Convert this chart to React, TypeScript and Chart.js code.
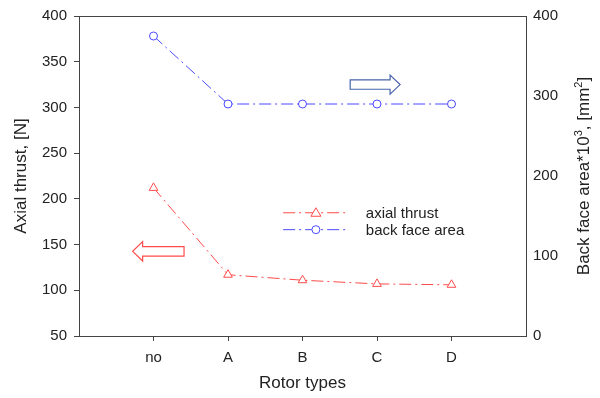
import React, { useEffect, useRef } from 'react';
import { Chart, registerables } from 'chart.js';

Chart.register(...registerables);

const categories = ['no', 'A', 'B', 'C', 'D'];
const axialThrust = [212, 117, 111, 107, 106];
const backFaceArea = [375, 290, 290, 290, 290];
const leftTicks = [50, 100, 150, 200, 250, 300, 350, 400];
const rightTicks = [0, 100, 200, 300, 400];

const RED = 'rgb(255,75,75)';
const BLUE = 'rgb(75,75,255)';
const FONT = '"Liberation Sans", Arial, sans-serif';
const DASH = [12, 4, 2, 4];

function drawArrow(ctx: CanvasRenderingContext2D, xTail: number, xTip: number, y: number, bodyH: number, headH: number, headL: number, color: string) {
  const dir = xTip > xTail ? 1 : -1;
  const xBase = xTip - dir * headL;
  ctx.save();
  ctx.beginPath();
  ctx.moveTo(xTail, y - bodyH);
  ctx.lineTo(xBase, y - bodyH);
  ctx.lineTo(xBase, y - headH);
  ctx.lineTo(xTip, y);
  ctx.lineTo(xBase, y + headH);
  ctx.lineTo(xBase, y + bodyH);
  ctx.lineTo(xTail, y + bodyH);
  ctx.closePath();
  ctx.fillStyle = '#ffffff';
  ctx.fill();
  ctx.strokeStyle = color;
  ctx.lineWidth = 1.2;
  ctx.stroke();
  ctx.restore();
}

const annotations = {
  id: 'annotations',
  afterDatasetsDraw(chart: any) {
    const { ctx, chartArea, scales } = chart;
    const x = scales.x;
    const y = scales.y;
    // top border
    ctx.save();
    ctx.strokeStyle = '#444';
    ctx.lineWidth = 1;
    ctx.beginPath();
    ctx.moveTo(chartArea.left, chartArea.top + 0.5);
    ctx.lineTo(chartArea.right, chartArea.top + 0.5);
    ctx.stroke();
    ctx.restore();

    // arrows
    drawArrow(ctx, x.getPixelForValue(2.64), x.getPixelForValue(3.31), y.getPixelForValue(325), 4.7, 9.5, 10, 'rgb(70,100,170)');
    drawArrow(ctx, x.getPixelForValue(0.41), x.getPixelForValue(-0.28), y.getPixelForValue(142.6), 4.8, 9.7, 10, RED);

    // legend
    const rows = [
      { label: 'axial thrust', color: RED, style: 'triangle', yv: 184.8 },
      { label: 'back face area', color: BLUE, style: 'circle', yv: 166.3 },
    ];
    const x0 = x.getPixelForValue(1.74);
    const x1 = x.getPixelForValue(2.61);
    const xm = x.getPixelForValue(2.18);
    const xt = x.getPixelForValue(2.85);
    rows.forEach((r) => {
      const py = y.getPixelForValue(r.yv);
      ctx.save();
      ctx.strokeStyle = r.color;
      ctx.lineWidth = 1;
      ctx.setLineDash(DASH);
      ctx.beginPath();
      ctx.moveTo(x0, py);
      ctx.lineTo(x1, py);
      ctx.stroke();
      ctx.setLineDash([]);
      ctx.fillStyle = '#fff';
      ctx.beginPath();
      if (r.style === 'circle') {
        ctx.arc(xm, py, 4, 0, Math.PI * 2);
      } else {
        ctx.moveTo(xm, py - 5);
        ctx.lineTo(xm + 5, py + 3.5);
        ctx.lineTo(xm - 5, py + 3.5);
        ctx.closePath();
      }
      ctx.fill();
      ctx.stroke();
      ctx.fillStyle = '#222';
      ctx.font = '15px ' + FONT;
      ctx.textAlign = 'left';
      ctx.textBaseline = 'middle';
      ctx.fillText(r.label, xt, py + 1);
      ctx.restore();
    });
  },
  afterDraw(chart: any) {
    const { ctx, chartArea } = chart;
    const parts = [
      { t: 'Back face area*10', sup: false },
      { t: '3', sup: true },
      { t: ', [mm', sup: false },
      { t: '2', sup: true },
      { t: ']', sup: false },
    ];
    const big = '17px ' + FONT;
    const small = '11px ' + FONT;
    ctx.save();
    let total = 0;
    parts.forEach((p) => {
      ctx.font = p.sup ? small : big;
      total += ctx.measureText(p.t).width;
    });
    const cy = (chartArea.top + chartArea.bottom) / 2;
    ctx.translate(589, cy);
    ctx.rotate(-Math.PI / 2);
    ctx.fillStyle = '#222';
    ctx.textAlign = 'left';
    ctx.textBaseline = 'alphabetic';
    let cx = -total / 2;
    parts.forEach((p) => {
      ctx.font = p.sup ? small : big;
      ctx.fillText(p.t, cx, p.sup ? -7 : 0);
      cx += ctx.measureText(p.t).width;
    });
    ctx.restore();
  },
};

export default function App() {
  const ref = useRef<HTMLCanvasElement | null>(null);
  useEffect(() => {
    if (!ref.current) return;
    const chart = new Chart(ref.current, {
      type: 'line',
      data: {
        datasets: [
          {
            label: 'axial thrust',
            data: axialThrust.map((v, i) => ({ x: i, y: v })),
            borderColor: RED,
            backgroundColor: '#fff',
            borderWidth: 1,
            borderDash: DASH,
            pointStyle: 'triangle',
            pointRadius: 5,
            pointBorderColor: RED,
            pointBackgroundColor: '#fff',
            pointBorderWidth: 1,
            yAxisID: 'y',
          },
          {
            label: 'back face area',
            data: backFaceArea.map((v, i) => ({ x: i, y: v })),
            borderColor: BLUE,
            backgroundColor: '#fff',
            borderWidth: 1,
            borderDash: DASH,
            pointStyle: 'circle',
            pointRadius: 4,
            pointBorderColor: BLUE,
            pointBackgroundColor: '#fff',
            pointBorderWidth: 1,
            yAxisID: 'y2',
          },
        ],
      },
      options: {
        animation: false,
        responsive: false,
        layout: { padding: { top: 15, left: 0, right: 0, bottom: 0 } },
        plugins: { legend: { display: false }, tooltip: { enabled: false } },
        font: { family: FONT },
        scales: {
          x: {
            type: 'linear',
            min: -1,
            max: 5,
            afterBuildTicks: (s: any) => {
              s.ticks = categories.map((_, i) => ({ value: i }));
            },
            afterFit: (s: any) => {
              s.height = 62;
            },
            ticks: {
              callback: (v: any) => categories[v] ?? '',
              color: '#222',
              font: { family: FONT, size: 15 },
              padding: 8,
              maxRotation: 0,
            },
            grid: { display: true, drawOnChartArea: false, tickLength: 5, color: '#444' },
            border: { display: true, color: '#444', width: 1 },
            title: { display: true, text: 'Rotor types', color: '#222', font: { family: FONT, size: 17 }, padding: { top: 2 } },
          },
          y: {
            type: 'linear',
            position: 'left',
            min: 50,
            max: 400,
            afterBuildTicks: (s: any) => {
              s.ticks = leftTicks.map((v) => ({ value: v }));
            },
            afterFit: (s: any) => {
              s.width = 79;
            },
            ticks: { color: '#222', font: { family: FONT, size: 15 }, padding: 7 },
            grid: { display: true, drawOnChartArea: false, tickLength: 5, color: '#444' },
            border: { display: true, color: '#444', width: 1 },
            title: { display: true, text: 'Axial thrust, [N]', color: '#222', font: { family: FONT, size: 17 }, padding: { top: 11, bottom: 2 } },
          },
          y2: {
            type: 'linear',
            position: 'right',
            min: 0,
            max: 400,
            afterBuildTicks: (s: any) => {
              s.ticks = rightTicks.map((v) => ({ value: v }));
            },
            afterFit: (s: any) => {
              s.width = 74;
            },
            ticks: { color: '#222', font: { family: FONT, size: 15 }, padding: 7 },
            grid: { display: false, drawOnChartArea: false, drawTicks: false },
            border: { display: true, color: '#444', width: 1 },
            title: { display: false },
          },
        },
      },
      plugins: [annotations],
    } as any);
    return () => chart.destroy();
  }, []);
  return (
    <div style={{ position: 'fixed', left: 0, top: 0, width: 600, height: 398, background: '#fff' }}>
      <canvas ref={ref} width={600} height={398} style={{ display: 'block', width: 600, height: 398 }} />
    </div>
  );
}
